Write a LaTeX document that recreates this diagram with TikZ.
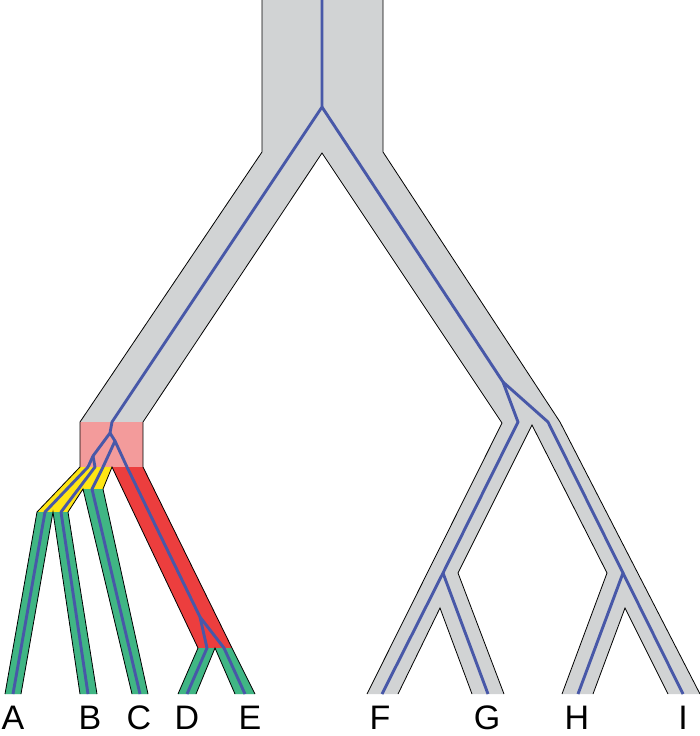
\documentclass[tikz,border=0pt]{standalone}
\usepackage{fontspec}
\setsansfont{Liberation Sans}
\usepackage{xcolor}

\definecolor{treegray}{RGB}{209,211,212}
\definecolor{geneblue}{RGB}{72,88,168}
\definecolor{poppink}{RGB}{243,155,155}
\definecolor{popred}{RGB}{236,62,62}
\definecolor{popyellow}{RGB}{255,230,20}
\definecolor{popgreen}{RGB}{64,182,132}

\begin{document}
\begin{tikzpicture}[
  x=1pt,
  y=-1pt,
  font=\sffamily,
  edge/.style={
    draw=black,
    line width=0.8pt,
    line join=miter
  },
  gene/.style={
    draw=geneblue,
    line width=2.9pt,
    line join=round
  },
  tip/.style={
    anchor=base,
    inner sep=0pt,
    text depth=0pt,
    font=\sffamily\fontsize{34}{34}\selectfont
  }
]
\useasboundingbox (0,0) rectangle (700,736);

% Species tree
\fill[treegray] (262,0) -- (262,152) -- (80,422) -- (80,467) -- (37,512) -- (5,694) -- (21,694) -- (53,512) -- (80,694) -- (97,694) -- (68,512) -- (83,489) -- (132,694) -- (148,694) -- (103,489) -- (112,467) -- (198,648) -- (178,694) -- (196,694) -- (215,648) -- (235,694) -- (255,694) -- (232,648) -- (143,467) -- (143,422) -- (322,153) -- (502,423) -- (367,694) -- (398,694) -- (440,608) -- (472,694) -- (504,694) -- (458,573) -- (532,425) -- (607,573) -- (562,694) -- (593,694) -- (625,608) -- (668,694) -- (700,694) -- (560,422) -- (383,152) -- (383,0) -- cycle;

% Coloured populations
\fill[poppink] (80,422) rectangle (143,467);
\fill[popyellow] (80,467) -- (112,467) -- (103,489) -- (83,489) -- (68,512) -- (37,512) -- cycle;
\fill[popred] (112,467) -- (143,467) -- (232,648) -- (198,648) -- cycle;
\fill[popgreen] (37,512) -- (53,512) -- (21,694) -- (5,694) -- cycle;
\fill[popgreen] (53,512) -- (68,512) -- (97,694) -- (80,694) -- cycle;
\fill[popgreen] (83,489) -- (103,489) -- (148,694) -- (132,694) -- cycle;
\fill[popgreen] (198,648) -- (215,648) -- (196,694) -- (178,694) -- cycle;
\fill[popgreen] (215,648) -- (232,648) -- (255,694) -- (235,694) -- cycle;

% Gene tree splits
\coordinate (g0) at (322,107);
\coordinate (g1) at (110,433);
\coordinate (g2) at (93,456);
\coordinate (g3) at (115,441);
\coordinate (g4) at (200,617);
\coordinate (g5) at (503,382);
\coordinate (g6) at (443,573);
\coordinate (g7) at (623,573);

% Gene tree
\draw[gene] (322,0) -- (g0) -- (112,422) -- (g1) -- (g2) -- (88,467) -- (45,512) -- (13,694);
\draw[gene] (g2) -- (95,467) -- (61,512) -- (88,694);
\draw[gene] (g1) -- (g3) -- (103,467) -- (92,489) -- (140,694);
\draw[gene] (g3) -- (127,467) -- (g4) -- (207,648) -- (187,694);
\draw[gene] (g4) -- (224,648) -- (245,694);
\draw[gene] (g0) -- (g5) -- (518,422) -- (g6) -- (382,694);
\draw[gene] (g6) -- (488,694);
\draw[gene] (g5) -- (548,422) -- (g7) -- (578,694);
\draw[gene] (g7) -- (683,694);

% Outline
\draw[edge] (262,0) -- (262,152) -- (80,422) -- (80,467) -- (37,512) -- (5,694)
  (21,694) -- (53,512) -- (80,694)
  (97,694) -- (68,512) -- (83,489) -- (132,694)
  (148,694) -- (103,489) -- (112,467) -- (198,648) -- (178,694)
  (196,694) -- (215,648) -- (235,694)
  (255,694) -- (232,648) -- (143,467) -- (143,422) -- (322,153) -- (502,423) -- (367,694)
  (398,694) -- (440,608) -- (472,694)
  (504,694) -- (458,573) -- (532,425) -- (607,573) -- (562,694)
  (593,694) -- (625,608) -- (668,694)
  (700,694) -- (560,422) -- (383,152) -- (383,0);

% Tips
\node[tip] (A) at (13,729) {A};
\node[tip] (B) at (90,729) {B};
\node[tip] (C) at (139,729) {C};
\node[tip] (D) at (187,729) {D};
\node[tip] (E) at (250,729) {E};
\node[tip] (F) at (380,729) {F};
\node[tip] (G) at (487,729) {G};
\node[tip] (H) at (577,729) {H};
\node[tip] (I) at (683,729) {I};

\end{tikzpicture}
\end{document}
